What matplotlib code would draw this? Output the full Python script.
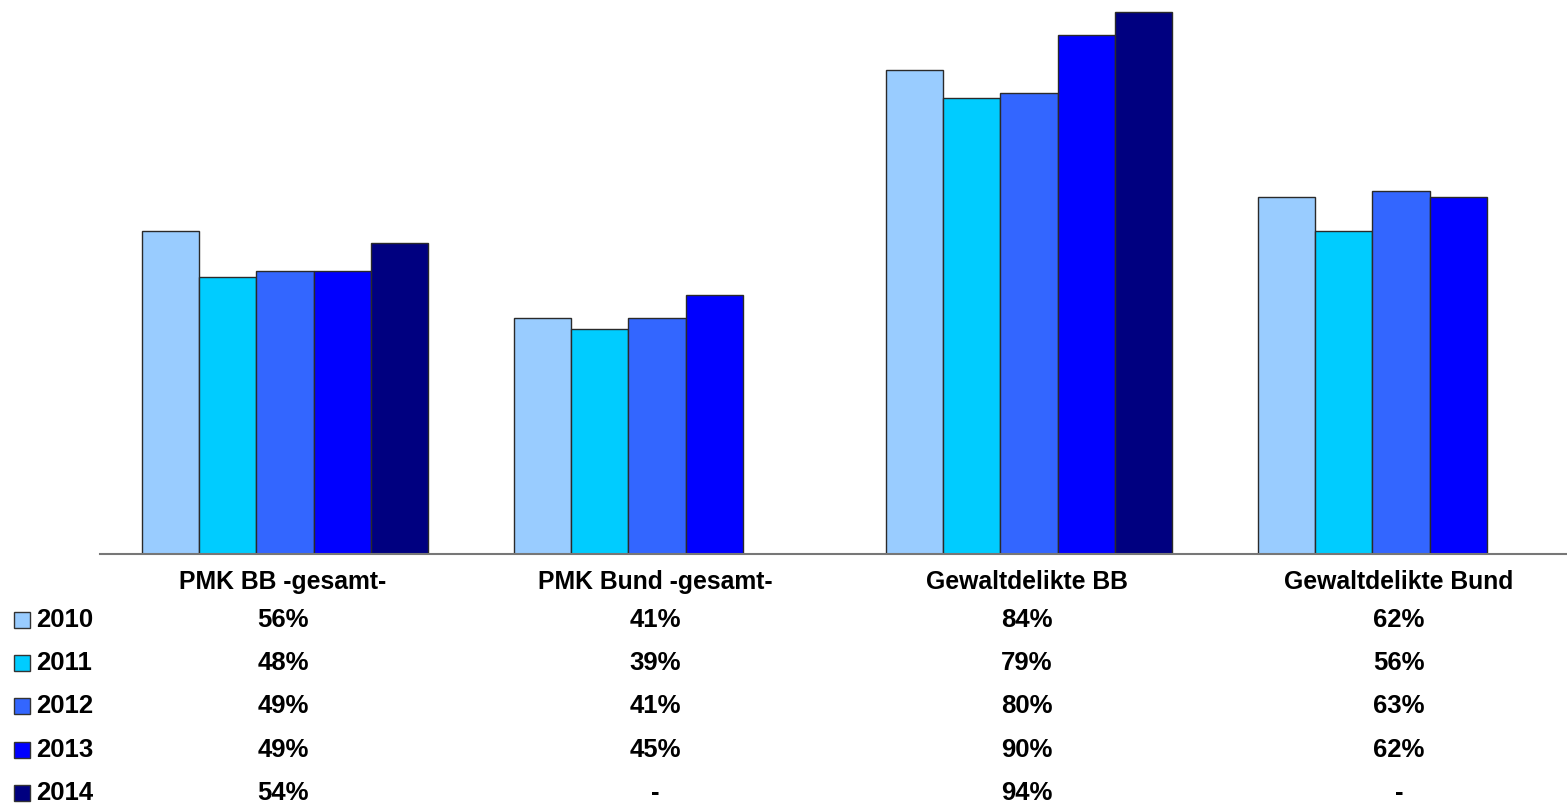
import numpy as np
import matplotlib.pyplot as plt
from matplotlib.patches import Rectangle
from matplotlib.transforms import blended_transform_factory

plt.rcParams['font.family'] = ['Liberation Sans', 'DejaVu Sans']

categories = ['PMK BB -gesamt-', 'PMK Bund -gesamt-', 'Gewaltdelikte BB', 'Gewaltdelikte Bund']
years = ['2010', '2011', '2012', '2013', '2014']
v2010 = [56, 41, 84, 62]
v2011 = [48, 39, 79, 56]
v2012 = [49, 41, 80, 63]
v2013 = [49, 45, 90, 62]
v2014 = [54, None, 94, None]
series = [v2010, v2011, v2012, v2013, v2014]
colors = ['#99CCFF', '#00CCFF', '#3366FF', '#0000FF', '#000080']

W, H = 1567, 808
fig = plt.figure(figsize=(W / 100, H / 100), dpi=100)
ax = fig.add_axes([100 / W, 1 - 554 / H, 1 - 100 / W, 554 / H])

bw = 57.2 / 372
x = np.arange(len(categories))
for k, (vals, c) in enumerate(zip(series, colors)):
    h = [np.nan if v is None else v for v in vals]
    ax.bar(x + (k - 2) * bw, h, bw, color=c, edgecolor='#2a2a2a', linewidth=1)

ax.set_xlim(-185 / 372, -185 / 372 + 1467 / 372)
ax.set_ylim(0, 554 / (542 / 94))
for s in ['top', 'left', 'right']:
    ax.spines[s].set_visible(False)
ax.spines['bottom'].set_color('#777777')
ax.spines['bottom'].set_linewidth(1.5)
ax.set_xticks([])
ax.set_yticks([])

# data table below the plot
tr = blended_transform_factory(ax.transData, fig.transFigure)
col_x = x - 2 / 372
for cx, name in zip(col_x, categories):
    ax.text(cx, 1 - 582 / H, name, transform=tr, ha='center', va='center',
            fontsize=17.8, fontweight='bold', clip_on=False)

row_y = [620, 663, 706, 750, 793]
for yr, vals, c, ry in zip(years, series, colors, row_y):
    fy = 1 - ry / H
    fig.patches.append(Rectangle((14 / W, fy - 8 / H), 16 / W, 16 / H,
                                 transform=fig.transFigure, facecolor=c,
                                 edgecolor='#333333', linewidth=1))
    fig.text(36 / W, fy, yr, ha='left', va='center', fontsize=18.5, fontweight='bold')
    for cx, v in zip(col_x, vals):
        label = '-' if v is None else f'{v}%'
        ax.text(cx, fy, label, transform=tr, ha='center', va='center',
                fontsize=18.5, fontweight='bold', clip_on=False)

fig.savefig('out.png', dpi=100)
